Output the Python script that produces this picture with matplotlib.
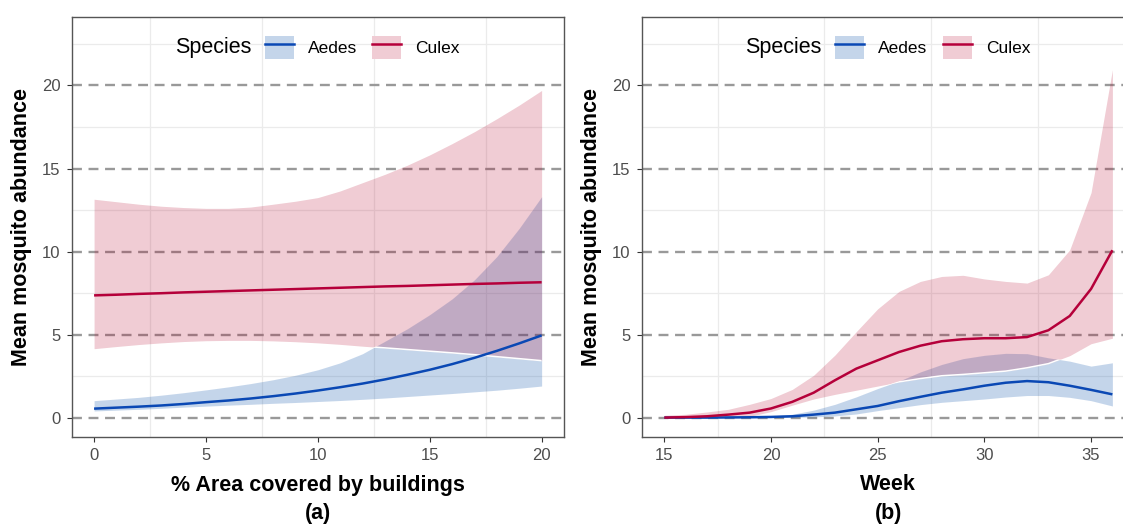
import numpy as np
import matplotlib
matplotlib.use("Agg")
import matplotlib.pyplot as plt
from matplotlib.patches import Patch
from matplotlib.lines import Line2D
from matplotlib.legend_handler import HandlerTuple

# ---------------- data ----------------
area = list(range(0, 21))
aedes_a_mean = [0.54, 0.60, 0.66, 0.73, 0.82, 0.93, 1.03, 1.15, 1.29, 1.45, 1.63,
                1.83, 2.05, 2.30, 2.58, 2.88, 3.22, 3.60, 4.02, 4.47, 4.95]
aedes_a_low = [0.40, 0.45, 0.50, 0.56, 0.63, 0.69, 0.75, 0.80, 0.86, 0.91, 0.97,
               1.03, 1.10, 1.18, 1.27, 1.36, 1.45, 1.55, 1.65, 1.77, 1.90]
aedes_a_high = [1.02, 1.12, 1.22, 1.35, 1.50, 1.67, 1.85, 2.05, 2.28, 2.55, 2.88,
                3.30, 3.85, 4.60, 5.35, 6.20, 7.15, 8.30, 9.70, 11.40, 13.30]
culex_a_mean = [7.36, 7.40, 7.45, 7.49, 7.54, 7.58, 7.62, 7.66, 7.70, 7.74, 7.78,
                7.82, 7.86, 7.90, 7.93, 7.97, 8.01, 8.05, 8.08, 8.12, 8.15]
culex_a_low = [4.15, 4.28, 4.40, 4.50, 4.58, 4.63, 4.65, 4.65, 4.62, 4.57, 4.50,
               4.41, 4.30, 4.20, 4.10, 4.00, 3.90, 3.79, 3.67, 3.55, 3.43]
culex_a_high = [13.15, 13.00, 12.85, 12.73, 12.65, 12.60, 12.60, 12.68, 12.85, 13.03, 13.25,
                13.65, 14.15, 14.65, 15.20, 15.82, 16.50, 17.22, 18.00, 18.82, 19.70]

week = list(range(15, 37))
culex_b_mean = [0.00, 0.03, 0.08, 0.18, 0.30, 0.55, 0.95, 1.50, 2.25, 2.95, 3.45, 3.95,
                4.33, 4.60, 4.72, 4.78, 4.78, 4.85, 5.26, 6.12, 7.75, 10.08]
culex_b_low = [0.00, 0.00, 0.01, 0.03, 0.08, 0.36, 0.75, 1.12, 1.40, 1.65, 1.90, 2.15,
               2.35, 2.52, 2.60, 2.70, 2.80, 3.00, 3.25, 3.73, 4.45, 4.78]
culex_b_high = [0.14, 0.20, 0.34, 0.50, 0.80, 1.15, 1.70, 2.55, 3.77, 5.18, 6.55, 7.60,
                8.20, 8.50, 8.57, 8.35, 8.20, 8.10, 8.60, 10.10, 13.55, 20.95]
aedes_b_mean = [0.00, 0.00, 0.00, 0.01, 0.02, 0.04, 0.08, 0.18, 0.30, 0.50, 0.70, 0.99,
                1.25, 1.50, 1.70, 1.92, 2.10, 2.20, 2.13, 1.92, 1.67, 1.40]
aedes_b_low = [0.00, 0.00, 0.00, 0.00, 0.00, 0.00, 0.01, 0.04, 0.10, 0.22, 0.42, 0.60,
               0.78, 0.92, 1.02, 1.12, 1.24, 1.33, 1.33, 1.22, 1.02, 0.70]
aedes_b_high = [0.02, 0.02, 0.03, 0.04, 0.06, 0.10, 0.20, 0.45, 0.80, 1.25, 1.75, 2.20,
                2.75, 3.20, 3.55, 3.75, 3.87, 3.85, 3.60, 3.40, 3.10, 3.30]

species = ["Aedes", "Culex"]
y_ticks = [0, 5, 10, 15, 20]
xticks_a = [0, 5, 10, 15, 20]
xticks_b = [15, 20, 25, 30, 35]

# ---------------- style ----------------
AEDES_LINE = "#0a48b4"
AEDES_FILL = "#175baf"
CULEX_LINE = "#b5003a"
CULEX_FILL = "#b40028"
A_ALPHA = 0.25
C_ALPHA = 0.20
GRID_MINOR = "#ebebeb"
DASH = "#999999"
TICK_TXT = "#4d4d4d"
BORDER = "#555555"

plt.rcParams['font.family'] = ['Liberation Sans', 'DejaVu Sans']

W, H = 1123, 526
fig = plt.figure(figsize=(W / 100, H / 100), dpi=100)
fig.patch.set_facecolor("white")

top_px, bot_px = 17.4, 436.7
ax_a = fig.add_axes([71.7 / W, (H - bot_px) / H, 492.3 / W, (bot_px - top_px) / H])
ax_b = fig.add_axes([641.9 / W, (H - bot_px) / H, 492.9 / W, (bot_px - top_px) / H])


def draw_panel(ax, x, a_mean, a_low, a_high, c_mean, c_low, c_high,
               xlim, xticks, xminor, xlabel, tag):
    ax.set_xlim(*xlim)
    ax.set_ylim(-1.15, 24.1)
    ax.set_xticks(xticks)
    ax.set_xticks(xminor, minor=True)
    ax.set_yticks(y_ticks)
    ax.set_yticks([2.5, 7.5, 12.5, 17.5, 22.5], minor=True)
    ax.grid(which="minor", color=GRID_MINOR, lw=0.9, zorder=0)
    ax.grid(which="major", visible=False)
    ax.tick_params(which="minor", length=0)
    ax.tick_params(which="major", length=3.6, width=0.8, color="#333333",
                   labelsize=12, labelcolor=TICK_TXT, pad=4.5)
    ax.set_axisbelow(True)
    for y in y_ticks:
        ax.axhline(y, color=DASH, lw=1.7, dashes=(4.2, 2.8), zorder=1)
    ab = ax.fill_between(x, a_low, a_high, color=AEDES_FILL, alpha=A_ALPHA, lw=0, zorder=2)
    ax.fill_between(x, c_low, c_high, color=CULEX_FILL, alpha=C_ALPHA, lw=0, zorder=3)
    # white seam along the Culex lower edge inside the Aedes ribbon
    seam, = ax.plot(x, c_low, color="white", lw=1.1, zorder=3.5)
    seam.set_clip_path(ab.get_paths()[0], ab.get_transform())
    ax.plot(x, a_mean, color=AEDES_LINE, lw=1.8, zorder=4, solid_capstyle="butt")
    ax.plot(x, c_mean, color=CULEX_LINE, lw=1.8, zorder=4, solid_capstyle="butt")
    for s in ax.spines.values():
        s.set_color(BORDER)
        s.set_linewidth(1.0)
    ax.set_xlabel(xlabel, fontsize=15.5, fontweight="bold", color="black")
    ax.xaxis.label.set_va("center")
    ax.xaxis.set_label_coords(0.5, (bot_px - 485) / (bot_px - top_px))
    ax.text(0.5, (bot_px - 513) / (bot_px - top_px), tag, transform=ax.transAxes,
            ha="center", va="center", fontsize=15.5, fontweight="bold")
    ax.set_ylabel("Mean mosquito abundance", fontsize=15.5, fontweight="bold", color="black")
    ax.yaxis.label.set(va="center", ha="center", rotation_mode="default")
    ax.yaxis.set_label_coords((21.4 - 71.7) / 492.3, 0.5)

    # legend
    handles = [
        (Patch(facecolor="white", lw=0), Patch(facecolor=AEDES_FILL, alpha=A_ALPHA, lw=0),
         Line2D([], [], color=AEDES_LINE, lw=1.8)),
        (Patch(facecolor="white", lw=0), Patch(facecolor=CULEX_FILL, alpha=C_ALPHA, lw=0),
         Line2D([], [], color=CULEX_LINE, lw=1.8)),
    ]
    fs = 12.5
    fs_px = fs * 100 / 72
    key_left = (265 - 71.7) / 492.3
    key_y = (bot_px - 47.5) / (bot_px - top_px)
    leg = ax.legend(handles, species, ncol=2, loc="center left",
                    bbox_to_anchor=(key_left, key_y), frameon=False, fontsize=fs,
                    handler_map={tuple: HandlerTuple(ndivide=1, pad=0)},
                    handlelength=29 / fs_px, handleheight=30 / fs_px,
                    handletextpad=14 / fs_px, columnspacing=15 / fs_px,
                    borderpad=0, borderaxespad=0)
    leg.set_zorder(6)
    ax.text((251 - 71.7) / 492.3, key_y, "Species", transform=ax.transAxes,
            ha="right", va="center", fontsize=15.5, zorder=6)


draw_panel(ax_a, area, aedes_a_mean, aedes_a_low, aedes_a_high,
           culex_a_mean, culex_a_low, culex_a_high,
           (-1, 21), xticks_a, [2.5, 7.5, 12.5, 17.5],
           "% Area covered by buildings", "(a)")
draw_panel(ax_b, week, aedes_b_mean, aedes_b_low, aedes_b_high,
           culex_b_mean, culex_b_low, culex_b_high,
           (13.95, 37.05), xticks_b, [17.5, 22.5, 27.5, 32.5],
           "Week", "(b)")

fig.savefig("out.png", dpi=100, facecolor="white")
